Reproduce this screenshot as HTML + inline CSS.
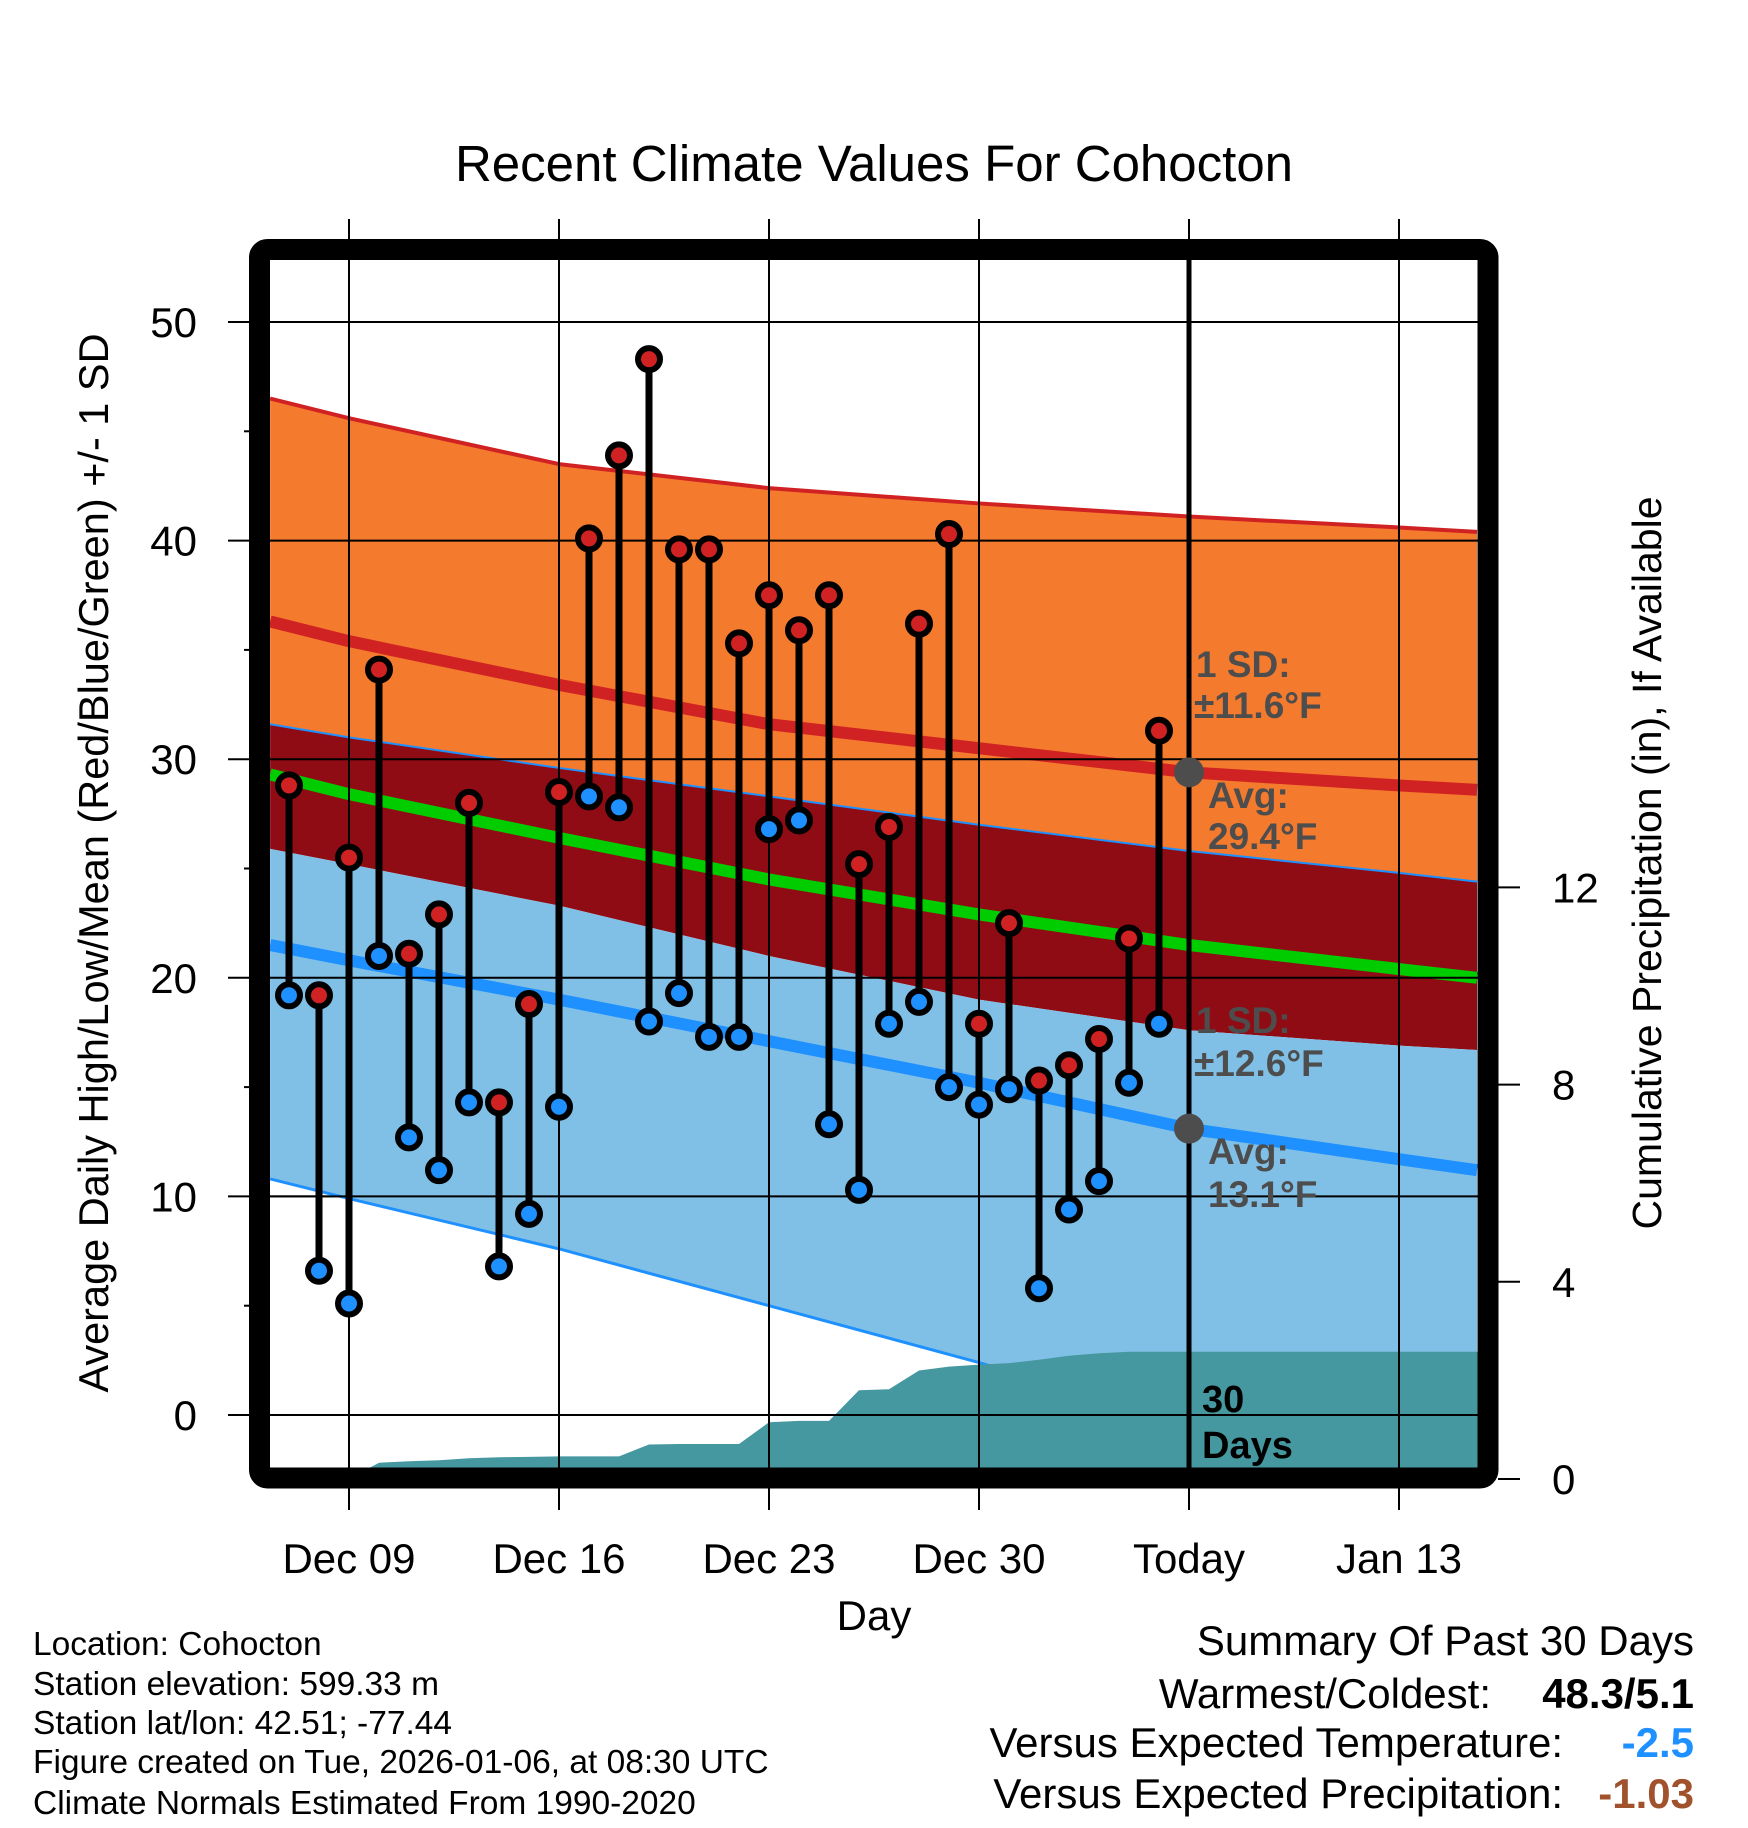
<!DOCTYPE html>
<html><head><meta charset="utf-8"><style>
html,body{margin:0;padding:0;background:#fff;}
svg{display:block;font-family:"Liberation Sans",sans-serif;}
</style></head><body>
<svg id="chart" width="1748" height="1828" viewBox="0 0 1748 1828" xmlns="http://www.w3.org/2000/svg">
<defs><clipPath id="plotclip"><rect x="270" y="260" width="1208" height="1208"/></clipPath></defs>
<text x="874" y="181" font-size="51" text-anchor="middle">Recent Climate Values For Cohocton</text>
<g id="grid"></g>
<g id="bands" clip-path="url(#plotclip)"></g>
<g id="marks"></g>
<rect x="259.5" y="249.5" width="1228.5" height="1228.5" rx="8" fill="none" stroke="#000" stroke-width="21"/>
<g id="axes"></g>
<text x="874" y="1630" font-size="42" text-anchor="middle">Day</text>
<text transform="translate(108,863) rotate(-90)" font-size="41.5" text-anchor="middle">Average Daily High/Low/Mean (Red/Blue/Green) +/- 1 SD</text>
<text transform="translate(1661,863) rotate(-90)" font-size="41" text-anchor="middle">Cumulative Precipitation (in), If Available</text>
<g font-size="33.5">
<text x="33" y="1655">Location: Cohocton</text>
<text x="33" y="1695">Station elevation: 599.33 m</text>
<text x="33" y="1734">Station lat/lon: 42.51; -77.44</text>
<text x="33" y="1773">Figure created on Tue, 2026-01-06, at 08:30 UTC</text>
<text x="33" y="1814">Climate Normals Estimated From 1990-2020</text>
</g>
<g font-size="42">
<text x="1694" y="1655" text-anchor="end">Summary Of Past 30 Days</text>
<text x="1491" y="1708" text-anchor="end">Warmest/Coldest:</text>
<text x="1694" y="1708" text-anchor="end" font-weight="bold">48.3/5.1</text>
<text x="1563" y="1757" text-anchor="end">Versus Expected Temperature:</text>
<text x="1694" y="1757" text-anchor="end" font-weight="bold" fill="#1e90ff">-2.5</text>
<text x="1563" y="1808" text-anchor="end">Versus Expected Precipitation:</text>
<text x="1694" y="1808" text-anchor="end" font-weight="bold" fill="#a0522d">-1.03</text>
</g>
</svg>
<script>
const highs=[28.8,19.2,25.5,34.1,21.1,22.9,28.0,14.3,18.8,28.5,40.1,43.9,48.3,39.6,39.6,35.3,37.5,35.9,37.5,25.2,26.9,36.2,40.3,17.9,22.5,15.3,16.0,17.2,21.8,31.3];
const lows=[19.2,6.6,5.1,21.0,12.7,11.2,14.3,6.8,9.2,14.1,28.3,27.8,18.0,19.3,17.3,17.3,26.8,27.2,13.3,10.3,17.9,18.9,15.0,14.2,14.9,5.8,9.4,10.7,15.2,17.9];
const precip=[0,0,0,0.33,0.36,0.38,0.42,0.44,0.45,0.46,0.46,0.46,0.70,0.71,0.71,0.71,1.15,1.18,1.18,1.80,1.82,2.20,2.28,2.32,2.35,2.42,2.50,2.55,2.58,2.58];
const normDays=[-0.63,2,9,16,23,30,37,39.6];
const hiUpper=[46.5,45.6,43.5,42.4,41.7,41.1,40.6,40.4];
const hiAvg=[36.3,35.4,33.4,31.6,30.5,29.4,28.8,28.6];
const hiLower=[31.6,31.0,29.6,28.3,27.0,25.8,24.8,24.4];
const meanAvg=[29.3,28.4,26.4,24.5,22.9,21.5,20.4,20.0];
const loUpper=[25.9,25.2,23.3,21.0,19.0,17.6,16.9,16.7];
const loAvg=[21.5,20.8,19.0,17.1,15.2,13.1,11.7,11.2];
const loLower=[10.8,9.9,7.6,5.0,2.4,-0.5,-2.0,-2.5];
const xTickLabels=["Dec 09","Dec 16","Dec 23","Dec 30","Today","Jan 13"];
const xTickDays=[2,9,16,23,30,37];
const yTicks=[0,10,20,30,40,50];
const y2Ticks=[0,4,8,12];

const NS="http://www.w3.org/2000/svg";
const xs=d=>289+30*d;
const yt=v=>1415-21.86*v;
const yp=p=>1479-49.3*p;
function mk(parent,tag,attrs){const e=document.createElementNS(NS,tag);for(const k in attrs)e.setAttribute(k,attrs[k]);parent.appendChild(e);return e;}
const grid=document.getElementById('grid'),bands=document.getElementById('bands'),marks=document.getElementById('marks'),axes=document.getElementById('axes');

xTickDays.forEach((d,i)=>{
  const l=mk(grid,'line',{x1:xs(d),x2:xs(d),y1:219,y2:1510,stroke:'#000','stroke-width':2});
  
  
  const t=mk(axes,'text',{x:xs(d),y:1573,'font-size':42,'text-anchor':'middle'});
  t.textContent=xTickLabels[i];
  
  
});
yTicks.forEach(v=>{
  const l=mk(grid,'line',{x1:228,x2:1478,y1:yt(v),y2:yt(v),stroke:'#000','stroke-width':2});
  
  
  const t=mk(axes,'text',{x:197,y:yt(v)+15,'font-size':42,'text-anchor':'end'});
  t.textContent=v;
  
  
  if(v<50){
    const m=mk(axes,'line',{x1:244,x2:250,y1:yt(v+5),y2:yt(v+5),stroke:'#000','stroke-width':2});
    
    
  }
});
y2Ticks.forEach(p=>{
  const l=mk(axes,'line',{x1:1498,x2:1520,y1:yp(p),y2:yp(p),stroke:'#000','stroke-width':2});
  
  
  const t=mk(axes,'text',{x:1552,y:yp(p)+15,'font-size':42});
  t.textContent=p;
  
  
});

function pts(arr){return normDays.map((d,i)=>xs(d)+','+yt(arr[i]));}
function band(top,bot,fill,name){
  const p=pts(top).concat(pts(bot).reverse()).join(' ');
  const e=mk(bands,'polygon',{points:p,fill:fill});
  
  
}
band(hiUpper,hiLower,'#f47a2e','high-sd-band');
band(hiLower,loUpper,'#8f0c15','overlap-band');
band(loUpper,loLower,'#80c0e6','low-sd-band');
function line(arr,color,w,name){
  const e=mk(bands,'polyline',{points:pts(arr).join(' '),fill:'none',stroke:color,'stroke-width':w,'stroke-linejoin':'round'});
  
  
}
line(hiUpper,'#d02222',4,'high-upper-line');
line(hiLower,'#1e90ff',2,'high-lower-line');
line(loLower,'#1e90ff',3,'low-lower-line');
line(hiAvg,'#d02222',12,'avg-high-line');
line(meanAvg,'#00cc00',12,'avg-mean-line');
line(loAvg,'#1e90ff',12,'avg-low-line');
{
  let p=[xs(-0.7)+','+yp(0)];
  precip.forEach((v,i)=>p.push(xs(i)+','+yp(v)));
  p.push(xs(40)+','+yp(precip[precip.length-1]));
  p.push(xs(40)+','+yp(0));
  const e=mk(bands,'polygon',{points:p.join(' '),fill:'#4698a0'});
  
  
}
yTicks.forEach(v=>{
  const l=mk(bands,'line',{x1:228,x2:1478,y1:yt(v),y2:yt(v),stroke:'#000','stroke-width':2});
  
  
});
xTickDays.forEach(d=>{
  const l=mk(bands,'line',{x1:xs(d),x2:xs(d),y1:219,y2:1510,stroke:'#000','stroke-width':2});
  
  
});
{
  const l=mk(marks,'line',{x1:xs(30),x2:xs(30),y1:250,y2:1470,stroke:'#000','stroke-width':5});
  
  
}
const todayHi=hiAvg[5],todayLo=loAvg[5];
[[todayHi],[todayLo]].forEach((a,i)=>{
  const c=mk(marks,'circle',{cx:xs(30),cy:yt(a[0]),r:15,fill:'#4d4d4d'});
  
  
});
const ann=[["1 SD:",1196,677],["\u00b111.6\u00b0F",1194,718],["Avg:",1208,808],["29.4\u00b0F",1208,849],["1 SD:",1196,1033],["\u00b112.6\u00b0F",1194,1076],["Avg:",1208,1164],["13.1\u00b0F",1208,1207]];
ann.forEach(a=>{
  const t=mk(marks,'text',{x:a[1],y:a[2],'font-size':37,'font-weight':'bold',fill:'#4d4d4d'});
  t.textContent=a[0];
  
  
});
[["30",1202,1412],["Days",1202,1458]].forEach(a=>{
  const t=mk(marks,'text',{x:a[1],y:a[2],'font-size':38,'font-weight':'bold',fill:'#000'});
  t.textContent=a[0];
  
  
});
highs.forEach((h,i)=>{
  const s=mk(marks,'line',{x1:xs(i),x2:xs(i),y1:yt(h),y2:yt(lows[i]),stroke:'#000','stroke-width':7});
  
  
});
highs.forEach((h,i)=>{
  const a=mk(marks,'circle',{cx:xs(i),cy:yt(h),r:11,fill:'#d02222',stroke:'#000','stroke-width':6});
  
  
  const b=mk(marks,'circle',{cx:xs(i),cy:yt(lows[i]),r:11,fill:'#1e90ff',stroke:'#000','stroke-width':6});
  
  
});
</script>
</body></html>
